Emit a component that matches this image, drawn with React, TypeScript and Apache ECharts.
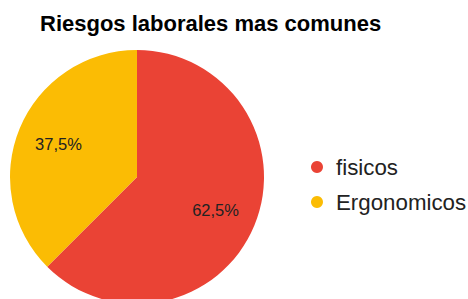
import React, { useEffect, useRef } from "react";
import * as echarts from "echarts";

const titleText = "Riesgos laborales mas comunes";
const categories = ["fisicos", "Ergonomicos"];
const values = [62.5, 37.5];
const colors = ["#EA4335", "#FBBC04"];

export default function App() {
  const ref = useRef<HTMLDivElement>(null);
  useEffect(() => {
    if (!ref.current) return;
    const chart = echarts.init(ref.current, undefined, { renderer: "svg" });
    const data = categories.map((name, i) => ({ name, value: values[i] }));
    const font = "Liberation Sans, Arial, sans-serif";
    chart.setOption({
      animation: false,
      backgroundColor: "#ffffff",
      color: colors,
      title: {
        text: titleText,
        left: 35,
        top: 7,
        textStyle: { fontFamily: font, fontSize: 22, fontWeight: "bold", color: "#000" },
      },
      legend: {
        orient: "vertical",
        left: 306,
        top: 151,
        icon: "circle",
        itemWidth: 12,
        itemHeight: 12,
        itemGap: 13,
        data: categories,
        textStyle: { fontFamily: font, fontSize: 22.3, lineHeight: 22, color: "#222", padding: [0, 0, 0, 8] },
      },
      series: [
        {
          type: "pie",
          center: [137, 177],
          radius: 127,
          startAngle: 90,
          clockwise: true,
          label: { show: false },
          labelLine: { show: false },
          emphasis: { disabled: true },
          data,
        },
        {
          type: "pie",
          center: [137, 177],
          radius: 164,
          startAngle: 90,
          clockwise: true,
          silent: true,
          itemStyle: { color: "transparent" },
          label: {
            show: true,
            position: "inside",
            fontFamily: font,
            fontSize: 16.5,
            color: "#222",
            formatter: (p: any) => String(p.percent).replace(".", ",") + "%",
          },
          labelLine: { show: false },
          emphasis: { disabled: true },
          data,
          z: 3,
        },
      ],
    });
    return () => chart.dispose();
  }, []);
  return <div ref={ref} style={{ position: "fixed", left: 0, top: 0, width: 468, height: 299 }} />;
}
